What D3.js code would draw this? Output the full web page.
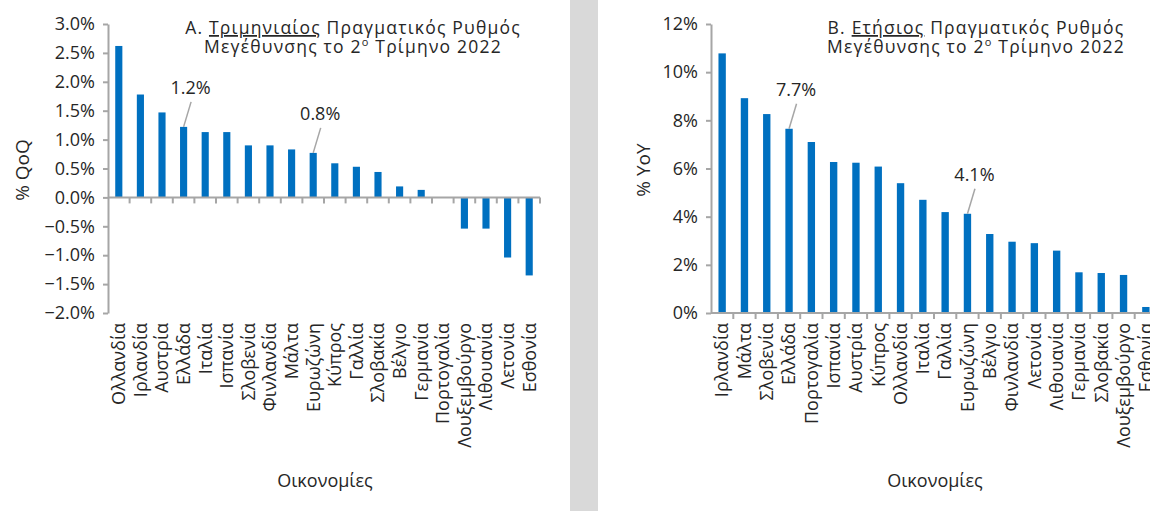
<!DOCTYPE html>
<html>
<head>
<meta charset="utf-8">
<script src="https://cdn.jsdelivr.net/npm/d3@7"></script>
<style>
  body { margin: 0; background: #fff; }
  text { font-family: "Open Sans", sans-serif; fill: #262626; }
</style>
</head>
<body>
<svg id="chart" width="1150" height="511"></svg>
<script>
// data
const qoqCountries = ['Ολλανδία', 'Ιρλανδία', 'Αυστρία', 'Ελλάδα', 'Ιταλία', 'Ισπανία', 'Σλοβενία',
	'Φινλανδία', 'Μάλτα', 'Ευρωζώνη', 'Κύπρος', 'Γαλλία', 'Σλοβακία', 'Βέλγιο', 'Γερμανία',
	'Πορτογαλία', 'Λουξεμβούργο', 'Λιθουανία', 'Λετονία', 'Εσθονία'];
const qoqValues = [2.62, 1.78, 1.47, 1.22, 1.13, 1.13, 0.90, 0.90, 0.83, 0.77, 0.59, 0.53, 0.44,
	0.19, 0.13, 0.0, -0.54, -0.54, -1.04, -1.35];
const qoqTicks = [-2, -1.5, -1, -0.5, 0, 0.5, 1, 1.5, 2, 2.5, 3];
const qoqLabels = [{country: 'Ελλάδα', text: '1.2%'}, {country: 'Ευρωζώνη', text: '0.8%'}];

const yoyCountries = ['Ιρλανδία', 'Μάλτα', 'Σλοβενία', 'Ελλάδα', 'Πορτογαλία', 'Ισπανία', 'Αυστρία',
	'Κύπρος', 'Ολλανδία', 'Ιταλία', 'Γαλλία', 'Ευρωζώνη', 'Βέλγιο', 'Φινλανδία', 'Λετονία',
	'Λιθουανία', 'Γερμανία', 'Σλοβακία', 'Λουξεμβούργο', 'Εσθονία'];
const yoyValues = [10.78, 8.92, 8.26, 7.65, 7.1, 6.27, 6.24, 6.08, 5.39, 4.70, 4.19, 4.12, 3.28,
	2.96, 2.90, 2.59, 1.69, 1.66, 1.58, 0.25];
const yoyTicks = [0, 2, 4, 6, 8, 10, 12];
const yoyLabels = [{country: 'Ελλάδα', text: '7.7%'}, {country: 'Ευρωζώνη', text: '4.1%'}];

const svg = d3.select('#chart');
const axisColor = '#a6a6a6';
const barColor = '#0070c0';

//gray divider between the two panels
svg.append('rect')
	.attr('x', 570).attr('y', 0)
	.attr('width', 28).attr('height', 511)
	.attr('fill', '#d9d9d9');

function drawPanel(p) {
	let g = svg.append('g');

	let x = d3.scaleBand().domain(p.countries).range([p.left, p.right]);
	let y = d3.scaleLinear().domain(p.domain).range([313, 24]);
	let barW = x.bandwidth() * 0.33;

	//bars
	g.selectAll('rect.bar')
		.data(p.countries.map((c, i) => ({c: c, v: p.values[i]})))
		.join('rect')
		.attr('class', 'bar')
		.attr('x', d => x(d.c) + (x.bandwidth() - barW) / 2)
		.attr('y', d => y(Math.max(0, d.v)))
		.attr('width', barW)
		.attr('height', d => Math.abs(y(d.v) - y(0)))
		.attr('fill', barColor);

	//y axis
	let yAxis = g.append('g')
		.attr('transform', 'translate(' + p.left + ',0)')
		.call(d3.axisLeft(y).tickValues(p.ticks).tickFormat(p.fmt).tickSize(5).tickSizeOuter(0));
	yAxis.select('.domain').attr('stroke', axisColor).attr('stroke-width', 2);
	yAxis.selectAll('.tick line').attr('stroke', axisColor).attr('stroke-width', 2);
	yAxis.selectAll('.tick text')
		.attr('x', -13)
		.style('font-size', '18px')
		.style('font-family', '"Open Sans", sans-serif')
		.attr('fill', '#262626');

	//x axis along zero, ticks between categories
	let zero = y(0);
	g.append('line')
		.attr('x1', p.left).attr('x2', p.right)
		.attr('y1', zero).attr('y2', zero)
		.attr('stroke', axisColor).attr('stroke-width', 2);
	let bounds = p.countries.map(c => x(c)).concat([p.right]).slice(1);
	g.selectAll('line.xtick')
		.data(bounds)
		.join('line')
		.attr('class', 'xtick')
		.attr('x1', d => d).attr('x2', d => d)
		.attr('y1', zero).attr('y2', zero + 6)
		.attr('stroke', axisColor).attr('stroke-width', 2);

	//category labels, rotated
	g.selectAll('text.cat')
		.data(p.countries)
		.join('text')
		.attr('class', 'cat')
		.attr('transform', d => 'translate(' + (x(d) + x.bandwidth() / 2) + ',323) rotate(-90)')
		.attr('dy', '0.35em')
		.attr('text-anchor', 'end')
		.style('font-size', '18px')
		.text(d => d);

	//axis titles
	g.append('text')
		.attr('transform', 'translate(' + p.yTitleX + ',170) rotate(-90)')
		.attr('text-anchor', 'middle')
		.attr('dy', '0.35em')
		.style('font-size', '19px')
		.text(p.yTitle);
	g.append('text')
		.attr('x', p.xTitleX).attr('y', 487)
		.attr('text-anchor', 'middle')
		.style('font-size', '18px')
		.text('Οικονομίες');

	//panel title, two tight lines in one text
	let t = g.append('text')
		.attr('x', p.titleX).attr('y', 34)
		.attr('text-anchor', 'middle')
		.style('font-size', '17.5px')
		.style('letter-spacing', '1.2px');
	t.append('tspan').text(p.titleA);
	t.append('tspan').attr('text-decoration', 'underline').text(p.titleU);
	t.append('tspan').text(p.titleB);
	t.append('tspan').attr('x', p.titleX).attr('dy', 19).text('Μεγέθυνσης το 2');
	t.append('tspan').attr('dy', -7).style('font-size', '11px').text('ο');
	t.append('tspan').attr('dy', 7).text(' Τρίμηνο 2022');

	//data call-outs
	p.labels.forEach(l => {
		let i = p.countries.indexOf(l.country);
		let cx = x(l.country) + x.bandwidth() / 2;
		let top = y(p.values[i]);
		g.append('line')
			.attr('x1', cx + 7.5).attr('y1', top - 25)
			.attr('x2', cx).attr('y2', top)
			.attr('stroke', axisColor).attr('stroke-width', 1.5);
		g.append('text')
			.attr('x', cx + 7).attr('y', top - 33)
			.attr('text-anchor', 'middle')
			.style('font-size', '18px')
			.text(l.text);
	});
}

drawPanel({
	countries: qoqCountries, values: qoqValues, ticks: qoqTicks,
	domain: [-2, 3], left: 108, right: 540,
	fmt: v => d3.format('.1f')(v) + '%',
	yTitle: '% QoQ', yTitleX: 22, xTitleX: 325,
	titleX: 353, titleA: 'A. ', titleU: 'Τριμηνιαίος', titleB: ' Πραγματικός Ρυθμός',
	labels: qoqLabels
});

drawPanel({
	countries: yoyCountries, values: yoyValues, ticks: yoyTicks,
	domain: [0, 12], left: 711, right: 1157,
	fmt: v => v + '%',
	yTitle: '% YoY', yTitleX: 643, xTitleX: 935,
	titleX: 976, titleA: 'B. ', titleU: 'Ετήσιος', titleB: ' Πραγματικός Ρυθμός',
	labels: yoyLabels
});
</script>
</body>
</html>
